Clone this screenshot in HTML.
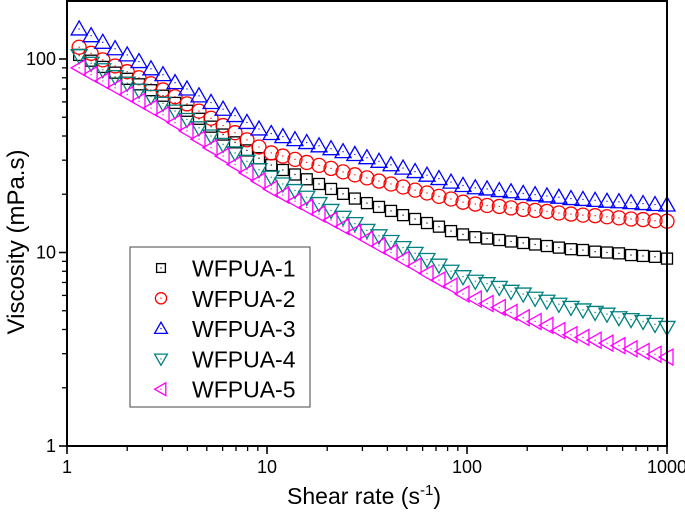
<!DOCTYPE html>
<html><head><meta charset="utf-8"><style>
html,body{margin:0;padding:0;background:#fff;}
svg{display:block;font-family:"Liberation Sans",Arial,sans-serif;}
</style></head><body>
<svg id="chart" width="685" height="515" viewBox="0 0 685 515" xmlns="http://www.w3.org/2000/svg">
<g id="marks"></g>
<g id="axes"></g>
<text x="364" y="504" font-size="23" text-anchor="middle">Shear rate (s<tspan font-size="15" dy="-9">-1</tspan><tspan dy="9">)</tspan></text>
<text transform="translate(24,242) rotate(-90)" font-size="24" text-anchor="middle">Viscosity (mPa.s)</text>
<g id="legend"></g>
</svg>
<script>
const shearRates = [1.15,1.32,1.51,1.74,2.0,2.29,2.63,3.02,3.47,3.98,4.57,5.25,6.03,6.92,7.94,9.12,10.5,12.0,13.8,15.8,18.2,20.9,24.0,27.5,31.6,36.3,41.7,47.9,55.0,63.1,72.4,83.2,95.5,110,126,145,166,191,219,251,288,331,380,437,501,575,661,759,871,1000];
const wfpua1 = [105,98,91,85,79,74,69,64.6,59.3,54,49.1,44.7,40.7,37.1,33.7,30.7,28.3,26.7,25.3,23.9,22.6,21.3,20.1,19.0,18.0,17.2,16.4,15.6,14.9,14.2,13.6,12.9,12.4,12.0,11.8,11.6,11.4,11.2,11.0,10.8,10.6,10.4,10.3,10.1,10.0,9.9,9.7,9.6,9.5,9.3];
const wfpua2 = [115,107,99,92,86,80,74.5,69.2,63.8,58.6,53.8,49.4,45.3,41.6,38.2,35.1,32.7,31.5,30.3,29.2,28.2,27.2,26.1,25.2,24.3,23.4,22.6,21.8,21.0,20.3,19.5,18.9,18.2,17.8,17.5,17.3,17.0,16.7,16.5,16.3,16.0,15.8,15.6,15.5,15.3,15.1,14.9,14.8,14.6,14.5];
const wfpua3 = [143,132,122,113,105,97,89,83,75.5,70,64.5,59.6,55,51,47,43.5,41.2,39.7,38.3,37,35.6,34.4,33.2,32.1,30.9,29.6,28.4,27.3,26.2,25.1,24.1,23.1,22.2,21.6,21.3,20.9,20.6,20.2,19.9,19.6,19.3,19.0,18.8,18.6,18.4,18.3,18.1,17.9,17.7,17.6];
const wfpua4 = [104,95,88,81,75,69,64,59,53.8,48.7,44.1,40,36.2,32.7,29.6,26.8,24.5,22.6,20.9,19.3,17.9,16.5,15.2,14.1,13.0,12.2,11.4,10.6,9.9,9.2,8.6,8.0,7.5,7.1,6.9,6.6,6.3,6.1,5.8,5.6,5.4,5.2,5.05,4.9,4.8,4.6,4.5,4.4,4.25,4.1];
const wfpua5 = [90,83,77,71,65.5,60.4,55.7,51.5,46.9,42.5,38.5,34.8,31.5,28.5,25.8,23.4,21.3,19.8,18.4,17.1,15.8,14.7,13.6,12.7,11.7,10.8,10.0,9.2,8.5,7.8,7.2,6.7,6.1,5.75,5.45,5.2,4.9,4.6,4.4,4.2,3.95,3.76,3.64,3.52,3.4,3.3,3.18,3.08,2.98,2.88];
const seriesNames = ["WFPUA-1","WFPUA-2","WFPUA-3","WFPUA-4","WFPUA-5"];
const xTickLabels = ["1","10","100","1000"];
const yTickLabels = ["1","10","100"];

const NS="http://www.w3.org/2000/svg";
const L=67,R=667,T=1,B=446;
function xs(v){return L+(R-L)*Math.log10(v)/3;}
function ys(v){return B-193.5*Math.log10(v);}
function mk(tag,attrs,parent){const e=document.createElementNS(NS,tag);for(const k in attrs)e.setAttribute(k,attrs[k]);parent.appendChild(e);return e;}
const styles=[{c:"#000",s:"square"},{c:"#ff0000",s:"circle"},{c:"#0000ff",s:"up"},{c:"#008080",s:"down"},{c:"#ff00ff",s:"left"}];
function marker(g,x,y,st,k){
  k=k||1;
  const c=st.c,a={fill:"none",stroke:c,"stroke-width":1.3};
  let e;
  if(st.s==="square"){e=mk("rect",Object.assign({x:x-5.5*k,y:y-5.5*k,width:11*k,height:11*k},a),g);}
  else if(st.s==="circle"){e=mk("circle",Object.assign({cx:x,cy:y,r:7*k},a),g);}
  else if(st.s==="up"){e=mk("polygon",Object.assign({points:`${x},${y-8*k} ${x+8*k},${y+6*k} ${x-8*k},${y+6*k}`},a),g);}
  else if(st.s==="down"){e=mk("polygon",Object.assign({points:`${x},${y+8*k} ${x+8*k},${y-6*k} ${x-8*k},${y-6*k}`},a),g);}
  else {e=mk("polygon",Object.assign({points:`${x-8*k},${y} ${x+6*k},${y-8*k} ${x+6*k},${y+8*k}`},a),g);}
  mk("rect",{x:x-0.6,y:y-0.6,width:1.2,height:1.2,fill:c},g);
  return e;
}
const marks=document.getElementById("marks");
const data=[wfpua1,wfpua2,wfpua3,wfpua4,wfpua5];
data.forEach((arr,si)=>{
  const g=mk("g",{},marks);
  
  
  arr.forEach((v,i)=>{
    const m=marker(g,xs(shearRates[i]),ys(v),styles[si]);
    
    
  });
});
const ax=document.getElementById("axes");
mk("rect",{x:L,y:T,width:R-L,height:B-T,fill:"none",stroke:"#000","stroke-width":2},ax);
xTickLabels.forEach((lab,i)=>{
  const v=Math.pow(10,i),x=xs(v);
  mk("line",{x1:x,x2:x,y1:B,y2:B+8,stroke:"#000","stroke-width":1.6},ax);
  const t=mk("text",{x:x,y:B+27,"font-size":18,"text-anchor":"middle"},ax);t.textContent=lab;
  
  
  if(i<3)for(let k=2;k<10;k++){const xm=xs(v*k);
    mk("line",{x1:xm,x2:xm,y1:B,y2:B+5,stroke:"#000","stroke-width":1.3},ax);}
});
yTickLabels.forEach((lab,i)=>{
  const v=Math.pow(10,i),y=ys(v);
  mk("line",{x1:L,x2:L-8,y1:y,y2:y,stroke:"#000","stroke-width":1.6},ax);
  const t=mk("text",{x:L-11,y:y+6,"font-size":18,"text-anchor":"end"},ax);t.textContent=lab;
  
  
  for(let k=2;k<10;k++){const ym=ys(v*k);if(ym<T)break;
    mk("line",{x1:L,x2:L-5,y1:ym,y2:ym,stroke:"#000","stroke-width":1.3},ax);}
});
const lg=document.getElementById("legend");
mk("rect",{x:130,y:247,width:180,height:160,fill:"#fff",stroke:"#444","stroke-width":1},lg);
seriesNames.forEach((n,i)=>{
  const y=268+30.3*i;
  const g=mk("g",{},lg);
  
  
  marker(g,161,y,styles[i],0.8);
  const t=mk("text",{x:192,y:y+8.5,"font-size":23},g);t.textContent=n;
});
</script>
</body></html>
